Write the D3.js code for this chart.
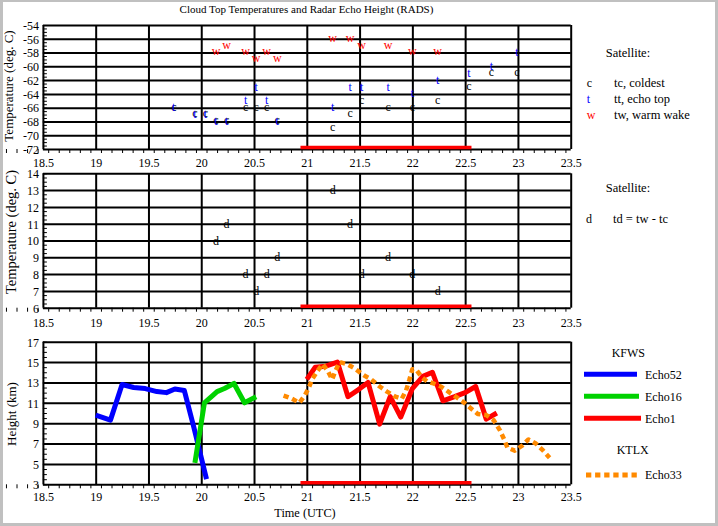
<!DOCTYPE html>
<html><head><meta charset="utf-8">
<script src="https://cdn.jsdelivr.net/npm/d3@7"></script>
<style>
html,body{margin:0;padding:0;background:#fff;}
svg{display:block;font-family:"Liberation Serif","Times New Roman",serif;}
</style></head><body>
<svg id="chart" width="718" height="526"></svg>
<script>
// ---------------- data ----------------
const timeTicks   = [18.5, 19, 19.5, 20, 20.5, 21, 21.5, 22, 22.5, 23, 23.5];
const tempTicks   = [-54, -56, -58, -60, -62, -64, -66, -68, -70, -72];
const diffTicks   = [14, 13, 12, 11, 10, 9, 8, 7, 6];
const heightTicks = [17, 15, 13, 11, 9, 7, 5, 3];

const satTimes = [19.74, 19.94, 20.04, 20.14, 20.24, 20.42, 20.52, 20.62, 20.72, 21.245, 21.41, 21.52, 21.77, 22.0, 22.24, 22.535, 22.75, 22.99];
const tcValues = [-66, -67, -67, -68, -68, -66, -66, -66, -68, -69, -67, -65, -66, -66, -65, -63, -61, -61];
const ttValues = [-66, -67, -67, -68, -68, -65, -63, -65, -68, -66, -63, -63, -63, -64, -62, -61, -60, -58];
const twValues = [null, null, null, -58, -57, -58, -59, -58, -59, -56, -56, -57, -57, -58, -58, null, null, null];
const tdValues = [null, null, null, 10, 11, 8, 7, 8, 9, 13, 11, 8, 9, 8, 7, null, null, null];

const echo52Times   = [19.00, 19.14, 19.25, 19.36, 19.47, 19.58, 19.67, 19.75, 19.84, 19.93, 20.05];
const echo52Heights = [9.8, 9.3, 12.8, 12.5, 12.4, 12.1, 12.0, 12.35, 12.2, 8.6, 3.5];

const echo16Times   = [19.94, 20.03, 20.15, 20.22, 20.31, 20.41, 20.52];
const echo16Heights = [5.1, 11.0, 12.1, 12.4, 12.9, 11.0, 11.6];

const echo1Times   = [21.00, 21.08, 21.18, 21.29, 21.39, 21.49, 21.58, 21.69, 21.79, 21.89, 22.00, 22.10, 22.19, 22.29, 22.40, 22.50, 22.60, 22.70, 22.80];
const echo1Heights = [13.3, 14.5, 14.6, 15.0, 11.6, 12.3, 13.0, 8.9, 11.6, 9.6, 12.4, 13.6, 14.0, 11.2, 11.6, 12.0, 12.6, 9.4, 10.0];

const echo33Times   = [20.78, 20.86, 20.93, 20.98, 21.02, 21.05, 21.10, 21.15, 21.20, 21.24, 21.27, 21.31, 21.38, 21.45, 21.54, 21.61, 21.69, 21.76, 21.84, 21.90, 21.94, 21.97, 22.00, 22.04, 22.09, 22.14, 22.20, 22.27, 22.34, 22.41, 22.48, 22.55, 22.62, 22.70, 22.77, 22.83, 22.87, 22.90, 22.97, 23.04, 23.10, 23.17, 23.24, 23.30];
const echo33Heights = [11.7, 11.4, 11.0, 11.7, 12.5, 13.3, 14.1, 14.8, 14.1, 13.3, 14.1, 15.0, 14.8, 14.4, 13.7, 13.3, 12.6, 12.1, 11.6, 11.4, 12.2, 13.2, 14.3, 14.2, 13.5, 13.1, 12.9, 12.6, 12.1, 11.6, 11.1, 10.5, 9.9, 9.8, 9.3, 8.3, 7.4, 6.6, 6.3, 6.8, 7.4, 7.0, 6.3, 5.6];

const rainPeriod = [20.94, 22.56];

// ---------------- drawing ----------------
const svg = d3.select("#chart");
svg.append("rect").attr("width", 718).attr("height", 526).attr("fill", "#c0c0c0");
svg.append("rect").attr("x", 3).attr("y", 2).attr("width", 712).attr("height", 521).attr("fill", "#fff");

const x = d3.scaleLinear().domain([18.5, 23.5]).range([42.9, 570.7]);
const X0 = x.range()[0], X1 = x.range()[1];
const minorX = d3.range(185, 2351, 10).map(v => v / 100);

const panels = [
  {ticks: tempTicks, y: d3.scaleLinear().domain([-72, -54]).range([149, 25]), minor: d3.range(-72, -53.9, 0.5), labelDy: 17.5},
  {ticks: diffTicks, y: d3.scaleLinear().domain([6, 14]).range([307.7, 173.3]), minor: d3.range(6, 14.01, 0.25), labelDy: 19.5},
  {ticks: heightTicks, y: d3.scaleLinear().domain([3, 17]).range([484.3, 341.7]), minor: d3.range(3, 17.01, 0.5), labelDy: 16.5}
];

panels.forEach(p => {
  const y = p.y;
  const yB = y.range()[0], yT = y.range()[1];
  const g = svg.append("g");
  // horizontal grid
  g.append("g").attr("transform", `translate(${X0},0)`)
    .call(d3.axisLeft(y).tickValues(p.ticks).tickSize(-(X1 - X0)).tickFormat(""))
    .call(a => { a.select(".domain").remove(); a.selectAll("line").attr("stroke", "#000").attr("stroke-width", 2); });
  // vertical grid
  g.append("g").attr("transform", `translate(0,${yB})`)
    .call(d3.axisBottom(x).tickValues(timeTicks).tickSize(-(yB - yT)).tickFormat(""))
    .call(a => { a.select(".domain").remove(); a.selectAll("line").attr("stroke", "#000").attr("stroke-width", 2); });
  // minor x ticks (outside)
  g.append("g").attr("transform", `translate(0,${yB})`)
    .call(d3.axisBottom(x).tickValues(minorX).tickSize(4).tickFormat(""))
    .call(a => { a.select(".domain").remove(); a.selectAll("line").attr("stroke", "#000"); });
  // minor y ticks (inside)
  g.append("g").attr("transform", `translate(${X0},0)`)
    .call(d3.axisRight(y).tickValues(p.minor).tickSize(4).tickFormat(""))
    .call(a => { a.select(".domain").remove(); a.selectAll("line").attr("stroke", "#000"); });
  // x labels
  g.append("g").attr("transform", `translate(0,${yB})`)
    .call(d3.axisBottom(x).tickValues(timeTicks).tickSize(0).tickFormat(d => String(d)))
    .call(a => { a.select(".domain").remove(); a.attr("font-family", null).attr("font-size", 12);
      a.selectAll("text").attr("y", p.labelDy).attr("dy", null).attr("fill", "#000"); });
  // y labels
  g.append("g").attr("transform", `translate(${X0},0)`)
    .call(d3.axisLeft(y).tickValues(p.ticks).tickSize(0).tickPadding(4).tickFormat(d => String(d)))
    .call(a => { a.select(".domain").remove(); a.attr("font-family", null).attr("font-size", 12);
      a.selectAll("text").attr("dy", "0.36em").attr("fill", "#000"); });
  // rain period bar
  g.append("line")
    .attr("x1", x(rainPeriod[0])).attr("x2", x(rainPeriod[1]))
    .attr("y1", yB - 1.5).attr("y2", yB - 1.5)
    .attr("stroke", "#ff0000").attr("stroke-width", 3.5);
});

// ---- text markers ----
function marks(y, vals, ch, color, dy) {
  svg.append("g").selectAll("text")
    .data(satTimes.map((t, i) => [t, vals[i]]).filter(d => d[1] !== null))
    .join("text")
    .attr("x", d => x(d[0])).attr("y", d => y(d[1]))
    .attr("dy", dy).attr("text-anchor", "middle")
    .attr("font-size", 12).attr("fill", color).text(ch);
}
const yTop = panels[0].y, yMid = panels[1].y, yBot = panels[2].y;
marks(yTop, tcValues, "c", "#000", "0.24em");
marks(yTop, ttValues, "t", "#0000ff", "0.3em");
marks(yTop, twValues, "w", "#ff0000", "0.24em");
marks(yMid, tdValues, "d", "#000", "0.34em");

// ---- echo lines ----
const line = d3.line().x(d => x(d[0])).y(d => yBot(d[1]));
function echo(times, hts, color, dash) {
  svg.append("path").datum(times.map((t, i) => [t, hts[i]]))
    .attr("d", line).attr("fill", "none").attr("stroke", color)
    .attr("stroke-width", dash ? 4.5 : 5).attr("stroke-linejoin", "round")
    .attr("stroke-dasharray", dash || null);
}
echo(echo52Times, echo52Heights, "#0000ff");
echo(echo16Times, echo16Heights, "#00d200");
echo(echo1Times, echo1Heights, "#ff0000");
echo(echo33Times, echo33Heights, "#ff8a00", "5.3,3.8");

// ---- titles ----
function txt(s, xx, yy, size, opts = {}) {
  const t = svg.append("text").attr("x", xx).attr("y", yy).attr("font-size", size)
    .attr("fill", opts.fill || "#000").text(s);
  if (opts.anchor) t.attr("text-anchor", opts.anchor);
  if (opts.rotate) t.attr("transform", `rotate(-90,${xx},${yy})`);
  return t;
}
txt("Cloud Top Temperatures and Radar Echo Height (RADS)", 306.5, 12.5, 11, {anchor: "middle"});
txt("Temperature (deg. C)", 13, 86, 13, {anchor: "middle", rotate: true});
txt("Temperature (deg. C)", 15.5, 232, 14.5, {anchor: "middle", rotate: true});
txt("Height (km)", 15.5, 414, 13, {anchor: "middle", rotate: true});
txt("Time (UTC)", 305, 517, 12.3, {anchor: "middle"});

// ---- legends ----
txt("Satellite:", 605.7, 56.5, 12.5);
txt("c", 586.7, 87.3, 12);
txt("tc, coldest", 614, 87.3, 12.5);
txt("t", 586.7, 102.7, 12, {fill: "#0000ff"});
txt("tt, echo top", 614, 102.7, 12.5);
txt("w", 586.7, 118.7, 12, {fill: "#ff0000"});
txt("tw, warm wake", 614, 118.7, 12.5);

txt("Satellite:", 605.7, 191.5, 12.5);
txt("d", 586, 222.5, 12);
txt("td = tw - tc", 613, 222.5, 12.5);

txt("KFWS", 611.7, 357, 12);
const legendLines = [
  {y: 374.2, x1: 584, x2: 637, color: "#0000ff", label: "Echo52", ty: 378.5},
  {y: 396.2, x1: 584, x2: 639, color: "#00d200", label: "Echo16", ty: 400.5},
  {y: 418.3, x1: 584, x2: 641, color: "#ff0000", label: "Echo1", ty: 422.5},
  {y: 475, x1: 586, x2: 637, color: "#ff8a00", label: "Echo33", ty: 478.5, dash: "5.3,3.8"}
];
legendLines.forEach(l => {
  svg.append("line").attr("x1", l.x1).attr("x2", l.x2).attr("y1", l.y).attr("y2", l.y)
    .attr("stroke", l.color).attr("stroke-width", 5).attr("stroke-dasharray", l.dash || null);
  txt(l.label, 645, l.ty, 12);
});
txt("KTLX", 616.7, 453.5, 12);
</script>
</body></html>
